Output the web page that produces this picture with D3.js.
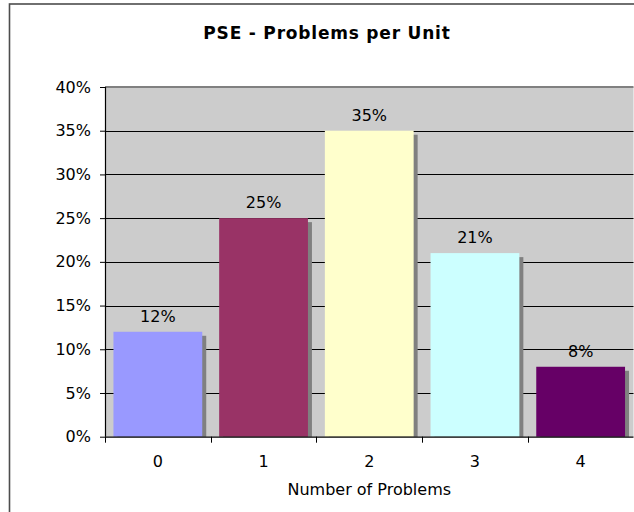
<!DOCTYPE html>
<html>
<head>
<meta charset="utf-8">
<script src="https://cdn.jsdelivr.net/npm/d3@7/dist/d3.min.js"></script>
<style>
  html, body { margin: 0; padding: 0; background: #ffffff; overflow: hidden; }
  svg { display: block; }
  text { font-family: "DejaVu Sans", Verdana, sans-serif; fill: #000; }
</style>
</head>
<body>
<svg id="chart" width="634" height="512"></svg>
<script>
// ---- data ----
const categories = ["0", "1", "2", "3", "4"];
const values = [0.12, 0.25, 0.35, 0.21, 0.08];
const barColors = ["#9999ff", "#993366", "#ffffcc", "#ccffff", "#660066"];
const yTicks = [0, 0.05, 0.10, 0.15, 0.20, 0.25, 0.30, 0.35, 0.40];
const chartTitle = "PSE - Problems per Unit";
const xTitle = "Number of Problems";

// ---- layout ----
const W = 634, H = 512;
const plot = { left: 105, right: 633.5, top: 87, bottom: 436.7 };

const svg = d3.select("#chart");

// outer chart border (extends past right/bottom edge, as in the reference)
svg.append("rect")
  .attr("x", 9.5).attr("y", 4)
  .attr("width", 660).attr("height", 540)
  .attr("fill", "#ffffff")
  .attr("stroke", "#4d4d4d").attr("stroke-width", 1.6);

const x = d3.scaleBand()
  .domain(categories)
  .range([plot.left, plot.right])
  .paddingInner(0.16)
  .paddingOuter(0.08);

const y = d3.scaleLinear()
  .domain([0, 0.4])
  .range([plot.bottom, plot.top]);

// plot area
svg.append("rect")
  .attr("x", plot.left).attr("y", plot.top)
  .attr("width", plot.right - plot.left).attr("height", plot.bottom - plot.top)
  .attr("fill", "#cccccc");

// gridlines
svg.append("g").selectAll("line")
  .data(yTicks.filter(d => d > 0 && d < 0.4))
  .join("line")
  .attr("x1", plot.left).attr("x2", plot.right)
  .attr("y1", d => Math.round(y(d)) + 0.5).attr("y2", d => Math.round(y(d)) + 0.5)
  .attr("stroke", "#000").attr("stroke-width", 1);

// top border of plot area
svg.append("line")
  .attr("x1", plot.left).attr("x2", plot.right)
  .attr("y1", plot.top).attr("y2", plot.top)
  .attr("stroke", "#808080").attr("stroke-width", 2);

// clip for shadows
svg.append("clipPath").attr("id", "plotclip")
  .append("rect")
  .attr("x", plot.left).attr("y", plot.top)
  .attr("width", plot.right - plot.left).attr("height", plot.bottom - plot.top);

const data = categories.map((c, i) => ({ c, v: values[i], col: barColors[i] }));

// shadows
svg.append("g").attr("clip-path", "url(#plotclip)")
  .selectAll("rect").data(data).join("rect")
  .attr("x", d => x(d.c) + 4)
  .attr("y", d => y(d.v) + 4)
  .attr("width", x.bandwidth())
  .attr("height", d => plot.bottom - y(d.v))
  .attr("fill", "#808080");

// bars
svg.append("g").selectAll("rect").data(data).join("rect")
  .attr("x", d => x(d.c))
  .attr("y", d => y(d.v))
  .attr("width", x.bandwidth())
  .attr("height", d => plot.bottom - y(d.v))
  .attr("fill", d => d.col);

// data labels
svg.append("g").selectAll("text").data(data).join("text")
  .attr("x", d => x(d.c) + x.bandwidth() / 2)
  .attr("y", d => y(d.v) - 10)
  .attr("text-anchor", "middle")
  .attr("font-size", 16)
  .text(d => d3.format(".0%")(d.v));

// y axis
const yAxis = svg.append("g")
  .attr("transform", `translate(${plot.left},0)`)
  .call(d3.axisLeft(y).tickValues(yTicks).tickFormat(d3.format(".0%")).tickSize(5).tickPadding(9));
yAxis.select(".domain").attr("stroke", "#000").attr("stroke-width", 1.2)
  .attr("d", `M0.5,${plot.top}V${plot.bottom}`);
yAxis.selectAll(".tick line").attr("stroke", "#000");
yAxis.selectAll(".tick text").attr("font-size", 16).attr("font-family", "DejaVu Sans, Verdana, sans-serif").attr("fill", "#000");

// x axis
const xAxis = svg.append("g")
  .attr("transform", `translate(0,${plot.bottom})`)
  .call(d3.axisBottom(x).tickSize(0).tickPadding(19));
xAxis.select(".domain").attr("stroke", "#000").attr("stroke-width", 1.2)
  .attr("d", `M${plot.left},0.5H${plot.right}`);
xAxis.selectAll(".tick text").attr("font-size", 16).attr("font-family", "DejaVu Sans, Verdana, sans-serif").attr("fill", "#000");

// x tick marks at category boundaries
const step = x.step();
const bounds = d3.range(categories.length + 1).map(i => plot.left + i * step);
xAxis.append("g").selectAll("line").data(bounds).join("line")
  .attr("x1", d => Math.round(d) + 0.5).attr("x2", d => Math.round(d) + 0.5)
  .attr("y1", 0).attr("y2", 6)
  .attr("stroke", "#000");

// titles
svg.append("text")
  .attr("x", 327).attr("y", 38.5)
  .attr("text-anchor", "middle")
  .attr("font-size", 17).attr("font-weight", "bold")
  .attr("letter-spacing", 0.8)
  .text(chartTitle);

svg.append("text")
  .attr("x", (plot.left + plot.right) / 2).attr("y", 495)
  .attr("text-anchor", "middle")
  .attr("font-size", 16)
  .text(xTitle);
</script>
</body>
</html>
